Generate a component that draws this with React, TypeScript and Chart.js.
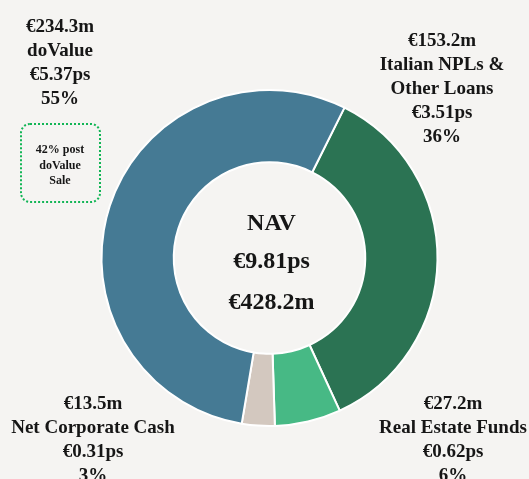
import React, { useEffect, useRef } from "react";
import { Chart, registerables } from "chart.js";

Chart.register(...registerables);

const categories = ["Italian NPLs & Other Loans", "Real Estate Funds", "Net Corporate Cash", "doValue"];
const valuesM = [153.2, 27.2, 13.5, 234.3];
const valueLabels = ["€153.2m", "€27.2m", "€13.5m", "€234.3m"];
const perShareLabels = ["€3.51ps", "€0.62ps", "€0.31ps", "€5.37ps"];
const percentLabels = ["36%", "6%", "3%", "55%"];
const colors = ["#2b7353", "#47b985", "#d3c8bf", "#457a94"];
const centerLines = ["NAV", "€9.81ps", "€428.2m"];
const boxLines = ["42% post", "doValue", "Sale"];

const BG = "#f5f4f2";
const TEXT = "#161616";
const FONT = '"Liberation Serif", "Times New Roman", serif';

const labelPlugin = {
  id: "navLabels",
  afterDraw(chart: any) {
    const ctx = chart.ctx as CanvasRenderingContext2D;
    ctx.save();
    ctx.fillStyle = TEXT;
    ctx.textAlign = "center";
    ctx.textBaseline = "middle";
    ctx.font = `bold 19px ${FONT}`;

    const drawBlock = (lines: string[], x: number, y0: number, step: number) => {
      lines.forEach((l, i) => ctx.fillText(l, x, y0 + i * step));
    };

    // doValue (top-left)
    drawBlock([valueLabels[3], categories[3], perShareLabels[3], percentLabels[3]], 60, 27, 24);
    // Italian NPLs (top-right)
    drawBlock([valueLabels[0], "Italian NPLs &", "Other Loans", perShareLabels[0], percentLabels[0]], 442, 41, 24);
    // Net Corporate Cash (bottom-left)
    drawBlock([valueLabels[2], categories[2], perShareLabels[2], percentLabels[2]], 93, 404, 24);
    // Real Estate Funds (bottom-right)
    drawBlock([valueLabels[1], categories[1], perShareLabels[1], percentLabels[1]], 453, 404, 24);

    // centre
    const meta = chart.getDatasetMeta(0);
    const arc = meta.data[0];
    const cx = arc.x;
    const cy = arc.y;
    ctx.font = `bold 24px ${FONT}`;
    ctx.fillText(centerLines[0], cx + 2, cy - 34);
    ctx.fillText(centerLines[1], cx + 2, cy + 4);
    ctx.fillText(centerLines[2], cx + 2, cy + 45);

    // dotted box
    ctx.strokeStyle = "#12b556";
    ctx.lineWidth = 2;
    ctx.setLineDash([2, 2]);
    ctx.beginPath();
    const bx = 21, by = 124, bw = 79, bh = 78, r = 9;
    ctx.moveTo(bx + r, by);
    ctx.lineTo(bx + bw - r, by);
    ctx.arcTo(bx + bw, by, bx + bw, by + r, r);
    ctx.lineTo(bx + bw, by + bh - r);
    ctx.arcTo(bx + bw, by + bh, bx + bw - r, by + bh, r);
    ctx.lineTo(bx + r, by + bh);
    ctx.arcTo(bx, by + bh, bx, by + bh - r, r);
    ctx.lineTo(bx, by + r);
    ctx.arcTo(bx, by, bx + r, by, r);
    ctx.closePath();
    ctx.stroke();
    ctx.setLineDash([]);

    ctx.font = `bold 12px ${FONT}`;
    drawBlock(boxLines, 60, 150, 15.5);
    ctx.restore();
  },
};

export default function App() {
  const ref = useRef<HTMLCanvasElement | null>(null);

  useEffect(() => {
    document.body.style.margin = "0";
    document.body.style.background = BG;
    if (!ref.current) return;
    const chart = new Chart(ref.current, {
      type: "doughnut",
      data: {
        labels: categories,
        datasets: [
          {
            data: valuesM,
            backgroundColor: colors,
            borderColor: "#ffffff",
            borderWidth: 2,
            hoverOffset: 0,
          },
        ],
      },
      options: {
        animation: false,
        responsive: false,
        rotation: 26.5,
        cutout: "57%",
        layout: { padding: { left: 100.5, right: 90.5, top: 89, bottom: 52 } },
        plugins: {
          legend: { display: false },
          tooltip: { enabled: false },
        },
        events: [],
      },
      plugins: [labelPlugin],
    });
    return () => chart.destroy();
  }, []);

  return (
    <div style={{ position: "fixed", left: 0, top: 0, width: 529, height: 479, background: BG }}>
      <canvas ref={ref} width={529} height={479} style={{ width: 529, height: 479, display: "block" }} />
    </div>
  );
}
